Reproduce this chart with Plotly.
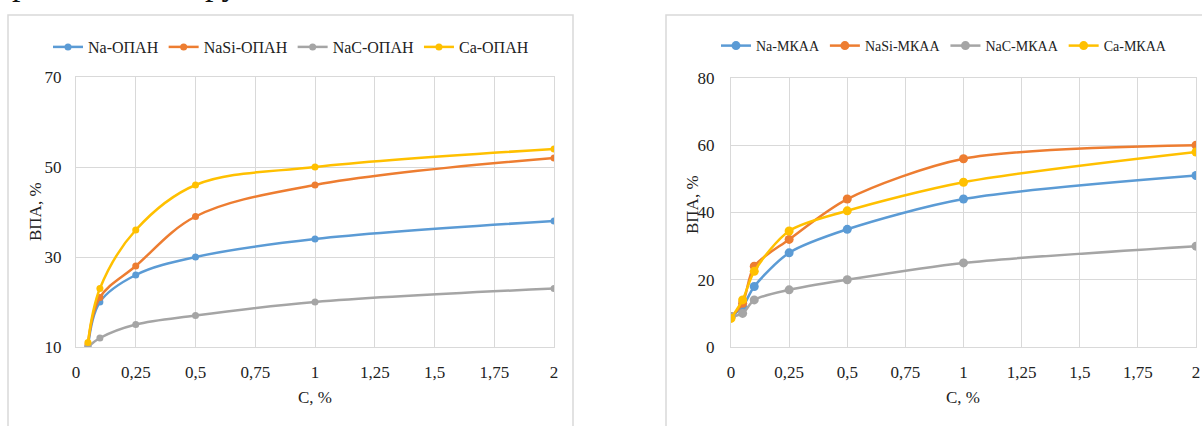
import plotly.graph_objects as go

# Left chart (ОПАН)
x_left = [0.05, 0.1, 0.25, 0.5, 1, 2]
na_opan = [10, 20, 26, 30, 34, 38]
nasi_opan = [10.5, 21, 28, 39, 46, 52]
nac_opan = [10, 12, 15, 17, 20, 23]
ca_opan = [11, 23, 36, 46, 50, 54]

# Right chart (МКАА)
x_right = [0, 0.05, 0.1, 0.25, 0.5, 1, 2]
na_mkaa = [9, 12, 18, 28, 35, 44, 51]
nasi_mkaa = [9, 13, 24, 32, 44, 56, 60]
nac_mkaa = [9, 10, 14, 17, 20, 25, 30]
ca_mkaa = [8.5, 14, 22.5, 34.5, 40.5, 49, 58]

x_ticks = [0, 0.25, 0.5, 0.75, 1, 1.25, 1.5, 1.75, 2]
left_names = ["Na-ОПАН", "NaSi-ОПАН", "NaC-ОПАН", "Ca-ОПАН"]
right_names = ["Na-МКАА", "NaSi-МКАА", "NaC-МКАА", "Ca-МКАА"]
colors = ["#5B9BD5", "#ED7D31", "#A5A5A5", "#FFC000"]

W, H = 1202, 426
FONT = "Liberation Serif"

fig = go.Figure()
for name, ys, c in zip(left_names, [na_opan, nasi_opan, nac_opan, ca_opan], colors):
    fig.add_trace(go.Scatter(x=x_left, y=ys, name=name, mode="lines+markers",
                             line=dict(color=c, width=2.5, shape="spline", smoothing=1),
                             marker=dict(color=c, size=7),
                             xaxis="x", yaxis="y", legend="legend"))
for name, ys, c in zip(right_names, [na_mkaa, nasi_mkaa, nac_mkaa, ca_mkaa], colors):
    fig.add_trace(go.Scatter(x=x_right, y=ys, name=name, mode="lines+markers",
                             line=dict(color=c, width=2.5, shape="spline", smoothing=0.8),
                             marker=dict(color=c, size=9),
                             xaxis="x2", yaxis="y2", legend="legend2"))

axis_common = dict(showgrid=True, gridcolor="#D9D9D9", gridwidth=1, zeroline=False,
                   showline=True, linecolor="#D9D9D9", linewidth=1, mirror=True,
                   ticks="outside", tickcolor="rgba(0,0,0,0)", automargin=False,
                   tickfont=dict(family=FONT, size=17, color="#222"))

fig.update_layout(
    width=W, height=H, margin=dict(l=0, r=0, t=0, b=0, autoexpand=False),
    paper_bgcolor="white", plot_bgcolor="white",
    separators=", ",
    font=dict(family=FONT, size=16, color="#222"),
    xaxis=dict(domain=[76 / W, 554 / W], range=[0, 2], tickvals=x_ticks, ticklen=10,
               anchor="y", **axis_common),
    yaxis=dict(domain=[1 - 347 / H, 1 - 77 / H], range=[10, 70], tickvals=[10, 30, 50, 70],
               ticklen=10, anchor="x", **axis_common),
    xaxis2=dict(domain=[731 / W, 1196 / W], range=[0, 2], tickvals=x_ticks, ticklen=10,
                anchor="y2", **axis_common),
    yaxis2=dict(domain=[1 - 347 / H, 1 - 78 / H], range=[0, 80], tickvals=[0, 20, 40, 60, 80],
                ticklen=12, anchor="x2", **axis_common),
    legend=dict(orientation="h", x=48 / W, y=1 - 30 / H, xanchor="left", yanchor="top",
                font=dict(family=FONT, size=16, color="#222"), itemwidth=30,
                bgcolor="rgba(0,0,0,0)"),
    legend2=dict(orientation="h", x=716 / W, y=1 - 30 / H, xanchor="left", yanchor="top",
                 font=dict(family=FONT, size=14, color="#222"), itemwidth=30,
                 bgcolor="rgba(0,0,0,0)"),
    shapes=[
        dict(type="rect", xref="paper", yref="paper", x0=8 / W, x1=573 / W,
             y0=-0.1, y1=1 - 15 / H, line=dict(color="#D9D9D9", width=1.5)),
        dict(type="rect", xref="paper", yref="paper", x0=666 / W, x1=1.1,
             y0=-0.1, y1=1 - 15 / H, line=dict(color="#D9D9D9", width=1.5)),
    ],
    annotations=[
        dict(text="ВПА, %", textangle=-90, xref="paper", yref="paper",
             x=35 / W, y=1 - 212 / H, xanchor="center", yanchor="middle",
             showarrow=False, font=dict(family=FONT, size=17)),
        dict(text="ВПА, %", textangle=-90, xref="paper", yref="paper",
             x=693 / W, y=1 - 205 / H, xanchor="center", yanchor="middle",
             showarrow=False, font=dict(family=FONT, size=17)),
        dict(text="C, %", xref="paper", yref="paper", x=315 / W, y=1 - 397 / H,
             xanchor="center", yanchor="middle",
             showarrow=False, font=dict(family=FONT, size=17)),
        dict(text="C, %", xref="paper", yref="paper", x=963 / W, y=1 - 397 / H,
             xanchor="center", yanchor="middle",
             showarrow=False, font=dict(family=FONT, size=17)),
        dict(text="р", xref="paper", yref="paper", x=20 / W, y=1 - 4 / H,
             xanchor="center", yanchor="bottom",
             showarrow=False, font=dict(family=FONT, size=34, color="#111")),
        dict(text="ру", xref="paper", yref="paper", x=222 / W, y=1 - 4 / H,
             xanchor="center", yanchor="bottom",
             showarrow=False, font=dict(family=FONT, size=34, color="#111")),
    ],
)

fig.write_html("out.html", config={"displayModeBar": False},
               post_script="document.body.style.margin='0';document.body.style.overflow='hidden';")
